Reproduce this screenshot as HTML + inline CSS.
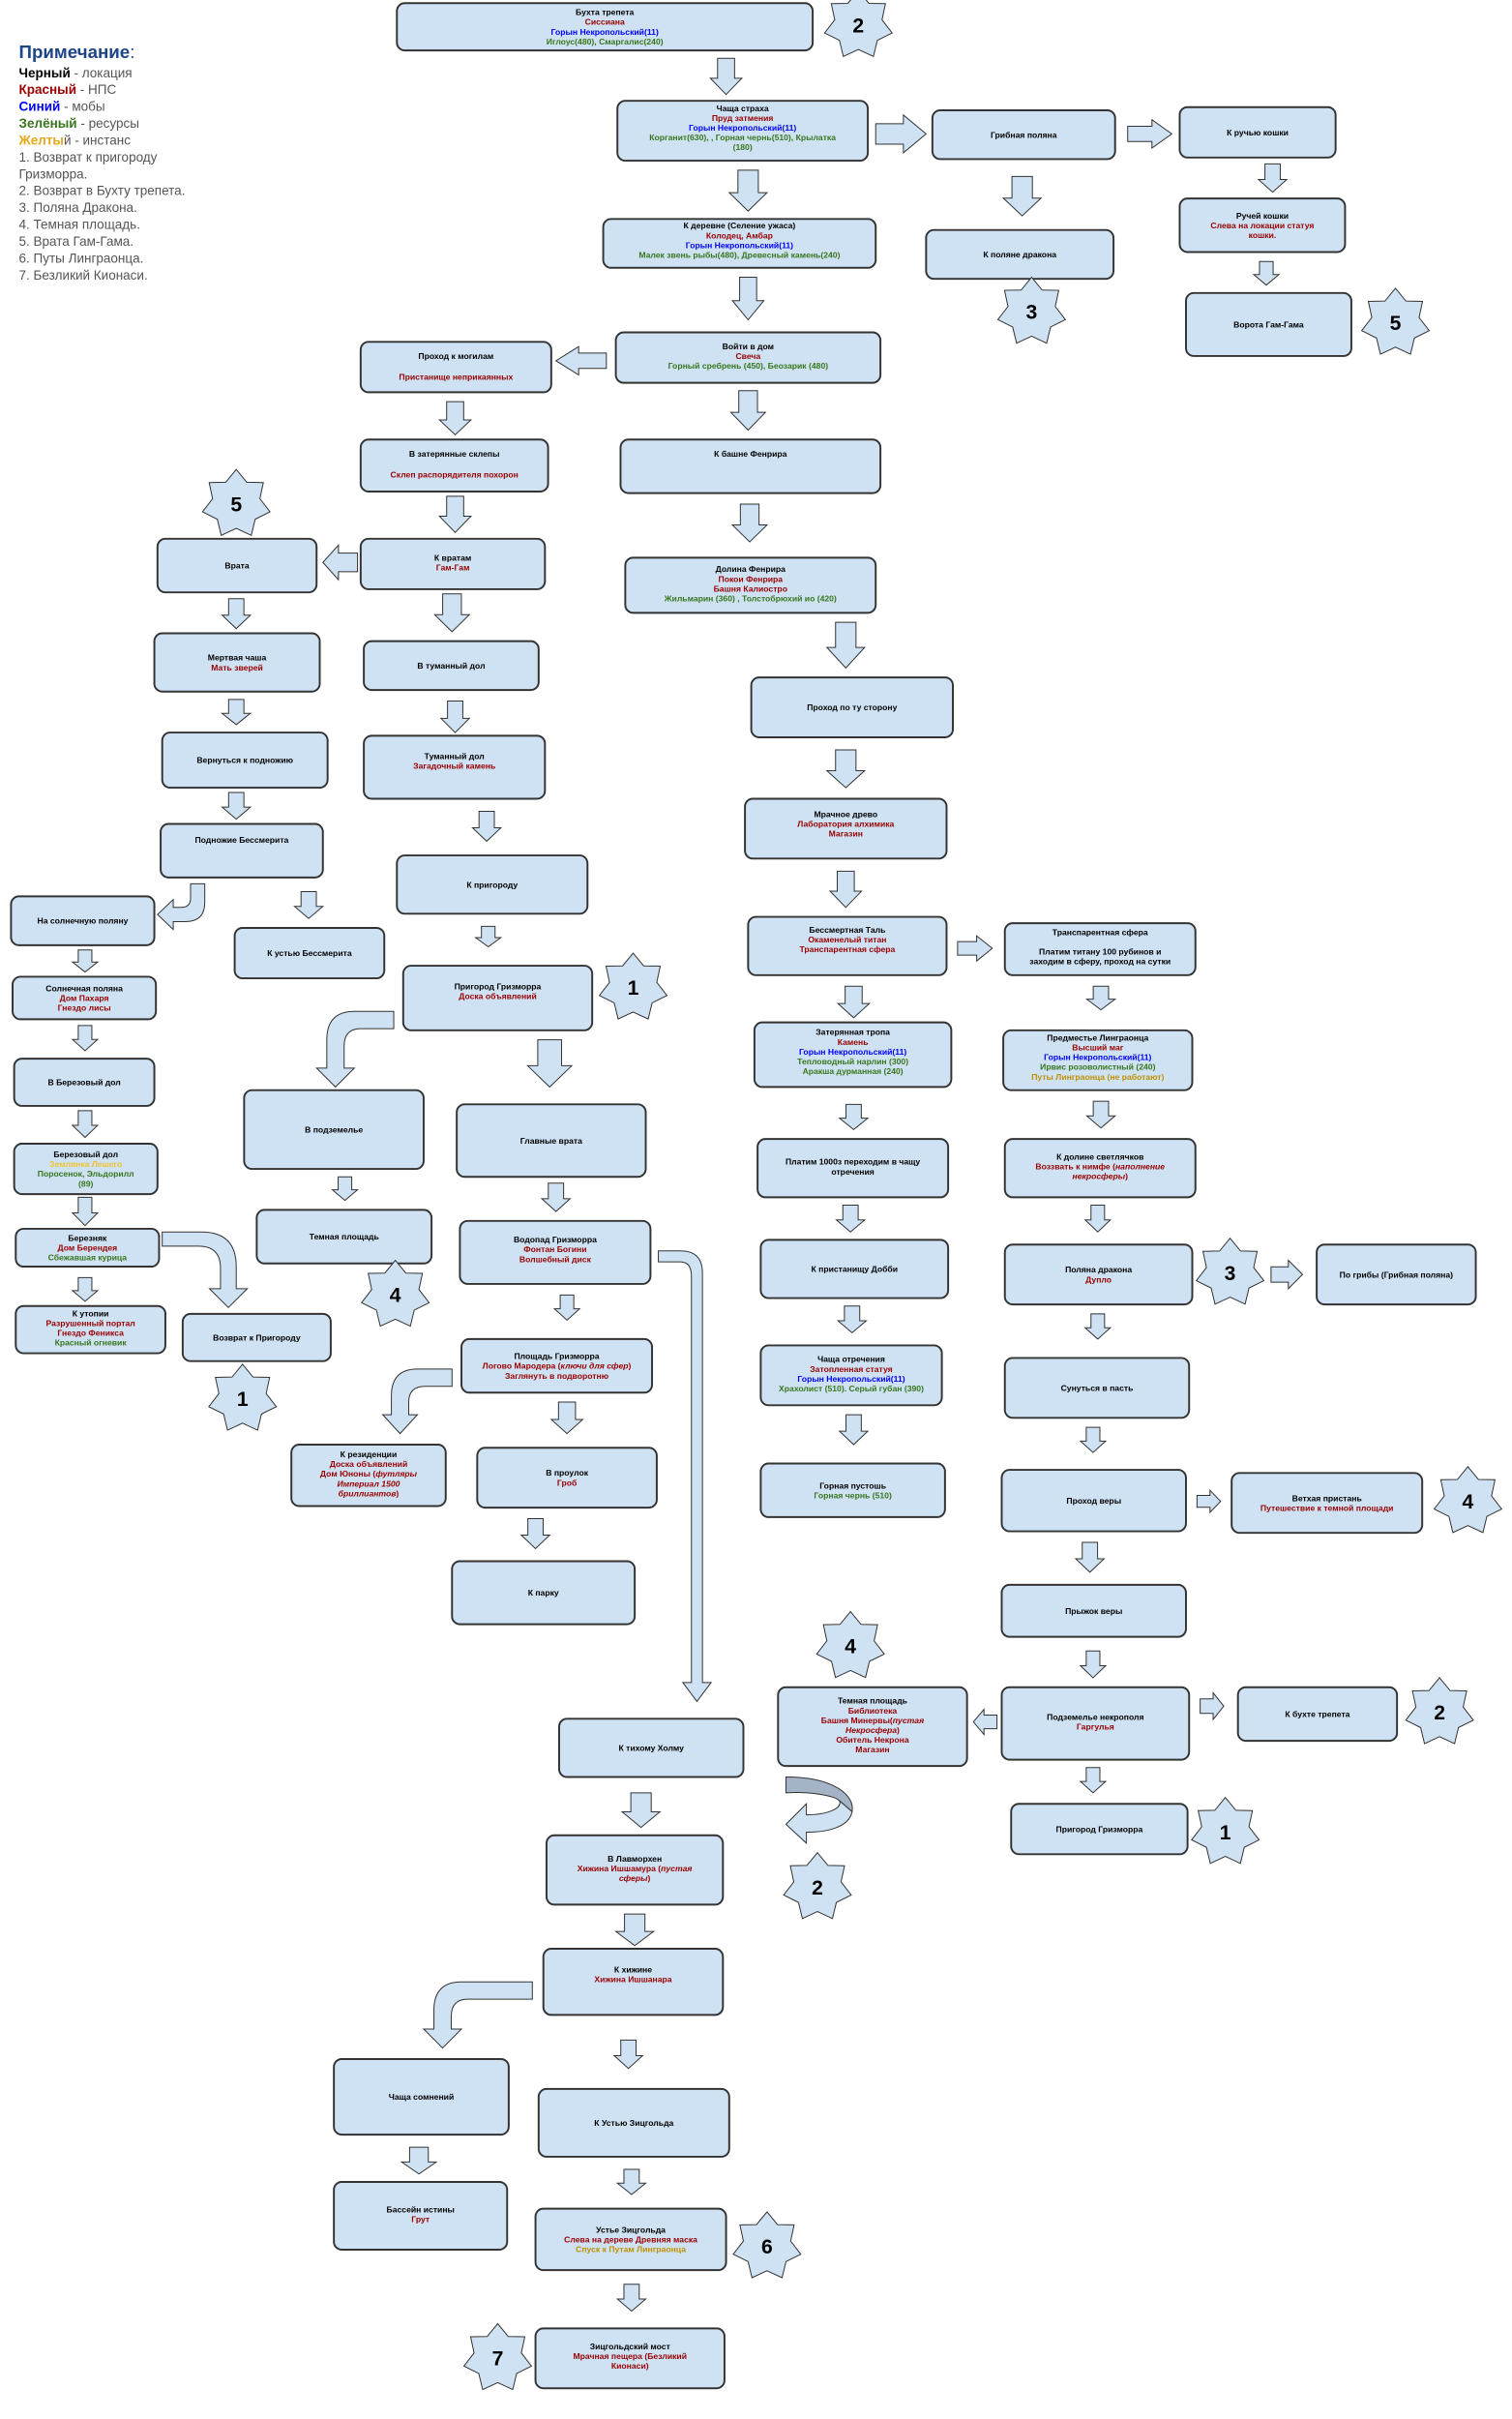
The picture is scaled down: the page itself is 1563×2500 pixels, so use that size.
<!DOCTYPE html>
<html><head><meta charset="utf-8"><style>
html,body{margin:0;padding:0;background:#fff;}
svg{display:block;}
text{font-family:"Liberation Sans","DejaVu Sans",sans-serif;font-weight:bold;font-size:5.3px;text-anchor:middle;}
.k{fill:#000}.r{fill:#990000}.b{fill:#0000ff}.g{fill:#38761d}.y{fill:#bf9000}
.bx{fill:#cfe2f3;stroke:#333;stroke-width:1.2;vector-effect:non-scaling-stroke}
.bp path{fill:#cfe2f3;stroke:#333;stroke-width:1;vector-effect:non-scaling-stroke}
.st text{font-size:13px}
.lg text{text-anchor:start;font-weight:normal;font-size:8.3px;fill:#555}
.i{font-style:italic}
</style></head><body>
<svg width="1563" height="2500" viewBox="0 0 960 1535.5" preserveAspectRatio="none" xmlns="http://www.w3.org/2000/svg" xmlns:xlink="http://www.w3.org/1999/xlink">
<defs>
<path id="da" fill="#cfe2f3" stroke="#333" stroke-width="1" vector-effect="non-scaling-stroke" d="M-0.27,0 H0.27 V0.55 H0.5 L0,1 L-0.5,0.55 H-0.27 Z"/>
<path id="ra" fill="#cfe2f3" stroke="#333" stroke-width="1" vector-effect="non-scaling-stroke" d="M0,-0.27 H0.55 V-0.5 L1,0 L0.55,0.5 V0.27 H0 Z"/>
<polygon id="star" fill="#cfe2f3" stroke="#333" stroke-width="1" vector-effect="non-scaling-stroke" points="0,-1 .304,-.631 .782,-.623 .682,-.156 .975,.223 .547,.436 .434,.901 0,.7 -.434,.901 -.547,.436 -.975,.223 -.682,-.156 -.782,-.623 -.304,-.631"/>
</defs>

<g class="lg">
<text x="12" y="37" style="font-size:11.5px;font-weight:bold;fill:#1c4587">Примечание<tspan style="font-weight:normal">:</tspan></text>
<text x="12" y="49"><tspan style="font-weight:bold;fill:#000">Черный</tspan> - локация</text>
<text x="12" y="59.7"><tspan style="font-weight:bold;fill:#990000">Красный</tspan> - НПС</text>
<text x="12" y="70.4"><tspan style="font-weight:bold;fill:#0000ff">Синий</tspan> - мобы</text>
<text x="12" y="81.1"><tspan style="font-weight:bold;fill:#38761d">Зелёный</tspan> - ресурсы</text>
<text x="12" y="91.8"><tspan style="font-weight:bold;fill:#e6a817">Желты</tspan>й - инстанс</text>
<text x="12" y="102.5">1. Возврат к пригороду</text>
<text x="12" y="113.2">Гризморра.</text>
<text x="12" y="123.9">2. Возврат в Бухту трепета.</text>
<text x="12" y="134.6">3. Поляна Дракона.</text>
<text x="12" y="145.3">4. Темная площадь.</text>
<text x="12" y="156">5. Врата Гам-Гама.</text>
<text x="12" y="166.7">6. Путы Линграонца.</text>
<text x="12" y="177.4">7. Безликий Кионаси.</text>
</g>

<g>
<use xlink:href="#da" transform="translate(461,37) scale(20,23)"/>
<use xlink:href="#da" transform="translate(475,108) scale(24,26)"/>
<use xlink:href="#da" transform="translate(649,112) scale(24,25)"/>
<use xlink:href="#da" transform="translate(808,104) scale(18,18)"/>
<use xlink:href="#da" transform="translate(804,166) scale(16,15)"/>
<use xlink:href="#da" transform="translate(475,176) scale(20,27)"/>
<use xlink:href="#da" transform="translate(475,248) scale(22,25)"/>
<use xlink:href="#da" transform="translate(289,255) scale(20,21)"/>
<use xlink:href="#da" transform="translate(476,320) scale(22,24)"/>
<use xlink:href="#da" transform="translate(289,315) scale(20,23)"/>
<use xlink:href="#da" transform="translate(537,395) scale(24,29)"/>
<use xlink:href="#da" transform="translate(287,377) scale(22,24)"/>
<use xlink:href="#da" transform="translate(150,380) scale(18,19)"/>
<use xlink:href="#da" transform="translate(289,445) scale(18,20)"/>
<use xlink:href="#da" transform="translate(150,444) scale(18,16)"/>
<use xlink:href="#da" transform="translate(537,476) scale(24,24)"/>
<use xlink:href="#da" transform="translate(150,503) scale(18,17)"/>
<use xlink:href="#da" transform="translate(309,515) scale(18,19)"/>
<use xlink:href="#da" transform="translate(196,566) scale(18,17)"/>
<use xlink:href="#da" transform="translate(537,553) scale(20,23)"/>
<use xlink:href="#da" transform="translate(310,588) scale(16,13)"/>
<use xlink:href="#da" transform="translate(54,603) scale(16,14)"/>
<use xlink:href="#da" transform="translate(542,626) scale(20,20)"/>
<use xlink:href="#da" transform="translate(699,626) scale(18,15)"/>
<use xlink:href="#da" transform="translate(349,660) scale(28,30)"/>
<use xlink:href="#da" transform="translate(54,651) scale(16,16)"/>
<use xlink:href="#da" transform="translate(542,701) scale(18,16)"/>
<use xlink:href="#da" transform="translate(699,699) scale(18,17)"/>
<use xlink:href="#da" transform="translate(54,705) scale(16,17)"/>
<use xlink:href="#da" transform="translate(219,747) scale(16,15)"/>
<use xlink:href="#da" transform="translate(353,751) scale(18,18)"/>
<use xlink:href="#da" transform="translate(54,760) scale(16,18)"/>
<use xlink:href="#da" transform="translate(540,765) scale(18,17)"/>
<use xlink:href="#da" transform="translate(697,765) scale(16,17)"/>
<use xlink:href="#da" transform="translate(54,811) scale(16,15)"/>
<use xlink:href="#da" transform="translate(360,822) scale(16,16)"/>
<use xlink:href="#da" transform="translate(541,829) scale(18,17)"/>
<use xlink:href="#da" transform="translate(697,834) scale(16,16)"/>
<use xlink:href="#da" transform="translate(360,890) scale(20,20)"/>
<use xlink:href="#da" transform="translate(542,898) scale(18,19)"/>
<use xlink:href="#da" transform="translate(694,906) scale(16,16)"/>
<use xlink:href="#da" transform="translate(340,964) scale(18,19)"/>
<use xlink:href="#da" transform="translate(692,979) scale(18,19)"/>
<use xlink:href="#da" transform="translate(694,1048) scale(16,17)"/>
<use xlink:href="#da" transform="translate(694,1122) scale(16,16)"/>
<use xlink:href="#da" transform="translate(407,1138) scale(24,22)"/>
<use xlink:href="#da" transform="translate(403,1215) scale(24,20)"/>
<use xlink:href="#da" transform="translate(399,1295) scale(18,18)"/>
<use xlink:href="#da" transform="translate(266,1363) scale(22,17)"/>
<use xlink:href="#da" transform="translate(401,1377) scale(18,16)"/>
<use xlink:href="#da" transform="translate(401,1450) scale(18,17)"/>
<use xlink:href="#ra" transform="translate(556,85) scale(32,24)"/>
<use xlink:href="#ra" transform="translate(716,85) scale(28,18)"/>
<use xlink:href="#ra" transform="translate(608,602) scale(22,16)"/>
<use xlink:href="#ra" transform="translate(807,809) scale(20,18)"/>
<use xlink:href="#ra" transform="translate(760,953) scale(15,14)"/>
<use xlink:href="#ra" transform="translate(762,1083) scale(15,17)"/>
<use xlink:href="#ra" transform="translate(385,229) scale(-32,18)"/>
<use xlink:href="#ra" transform="translate(227,357) scale(-22,22)"/>
<use xlink:href="#ra" transform="translate(633,1093) scale(-15,16)"/>
</g>
<g class="bp">
<path d="M250,642 L225,642 Q207.5,642 207.5,660 L207.5,678 L201,678 L213,690 L225,678 L218.5,678 L218.5,664 Q218.5,653 229,653 L250,653 Z"/>
<path d="M287,869 L265,869 Q248.5,869 248.5,886 L248.5,898 L243,898 L254,910 L265,898 L259.5,898 L259.5,890 Q259.5,880 270,880 L287,880 Z"/>
<path d="M338,1258 L293,1258 Q275.5,1258 275.5,1276 L275.5,1288 L269,1288 L281,1300 L293,1288 L286.5,1288 L286.5,1280 Q286.5,1269 297,1269 L338,1269 Z"/>
<path d="M121,561 L130,561 L130,573 Q130,585 118,585 L110,585 L110,590 L100,580.5 L110,571 L110,576 L115,576 Q121,576 121,570 Z"/>
<path d="M103,782 L128,782 Q150,782 150,804 L150,818 L157,818 L145,830 L133,818 L140,818 L140,805 Q140,791 126,791 L103,791 Z"/>
<path d="M418,794 L432,794 Q446,794 446,808 L446,1068 L451.5,1068 L442.5,1080 L433.5,1068 L439,1068 L439,810 Q439,801 432,801 L418,801 Z"/>
<path style="fill:#a4b4c6" d="M499,1128 C530,1128 543,1140 541,1150 L533,1143 C530,1140 515,1137 499,1138 Z"/>
<path d="M541,1150 C539,1160 525,1163 512,1163 L512,1170 L499,1158 L512,1145 L512,1152 C525,1152 535,1148 533,1143 Z"/>
</g>

<g class="bx">
<rect x="252" y="2" width="264" height="30" rx="5"/>
<rect x="392" y="64" width="159" height="38" rx="5"/>
<rect x="592" y="70" width="116" height="31" rx="5"/>
<rect x="749" y="68" width="99" height="32" rx="5"/>
<rect x="749" y="126" width="105" height="34" rx="5"/>
<rect x="753" y="186" width="105" height="40" rx="5"/>
<rect x="588" y="146" width="119" height="31" rx="5"/>
<rect x="383" y="139" width="173" height="31" rx="5"/>
<rect x="391" y="211" width="168" height="32" rx="5"/>
<rect x="229" y="217" width="121" height="32" rx="5"/>
<rect x="394" y="279" width="165" height="34" rx="5"/>
<rect x="229" y="279" width="119" height="33" rx="5"/>
<rect x="397" y="354" width="159" height="35" rx="5"/>
<rect x="229" y="342" width="117" height="32" rx="5"/>
<rect x="100" y="342" width="101" height="34" rx="5"/>
<rect x="477" y="430" width="128" height="38" rx="5"/>
<rect x="231" y="407" width="111" height="31" rx="5"/>
<rect x="98" y="402" width="105" height="37" rx="5"/>
<rect x="231" y="467" width="115" height="40" rx="5"/>
<rect x="103" y="465" width="105" height="35" rx="5"/>
<rect x="473" y="507" width="128" height="38" rx="5"/>
<rect x="102" y="523" width="103" height="34" rx="5"/>
<rect x="252" y="543" width="121" height="37" rx="5"/>
<rect x="7" y="569" width="91" height="31" rx="5"/>
<rect x="149" y="589" width="95" height="32" rx="5"/>
<rect x="475" y="582" width="126" height="37" rx="5"/>
<rect x="638" y="586" width="121" height="33" rx="5"/>
<rect x="256" y="613" width="120" height="41" rx="5"/>
<rect x="8" y="620" width="91" height="27" rx="5"/>
<rect x="479" y="649" width="125" height="41" rx="5"/>
<rect x="637" y="654" width="120" height="38" rx="5"/>
<rect x="9" y="672" width="89" height="30" rx="5"/>
<rect x="155" y="692" width="114" height="50" rx="5"/>
<rect x="290" y="701" width="120" height="46" rx="5"/>
<rect x="481" y="723" width="121" height="37" rx="5"/>
<rect x="638" y="723" width="121" height="37" rx="5"/>
<rect x="9" y="726" width="91" height="32" rx="5"/>
<rect x="163" y="768" width="111" height="34" rx="5"/>
<rect x="292" y="775" width="121" height="40" rx="5"/>
<rect x="10" y="780" width="91" height="24" rx="5"/>
<rect x="483" y="787" width="119" height="37" rx="5"/>
<rect x="638" y="790" width="119" height="38" rx="5"/>
<rect x="836" y="790" width="101" height="38" rx="5"/>
<rect x="10" y="829" width="95" height="30" rx="5"/>
<rect x="116" y="834" width="94" height="30" rx="5"/>
<rect x="293" y="850" width="121" height="34" rx="5"/>
<rect x="483" y="854" width="115" height="38" rx="5"/>
<rect x="638" y="862" width="117" height="38" rx="5"/>
<rect x="185" y="917" width="98" height="39" rx="5"/>
<rect x="303" y="919" width="114" height="38" rx="5"/>
<rect x="483" y="929" width="117" height="34" rx="5"/>
<rect x="636" y="933" width="117" height="39" rx="5"/>
<rect x="782" y="935" width="121" height="38" rx="5"/>
<rect x="287" y="991" width="116" height="40" rx="5"/>
<rect x="636" y="1006" width="117" height="33" rx="5"/>
<rect x="494" y="1071" width="120" height="50" rx="5"/>
<rect x="636" y="1071" width="119" height="46" rx="5"/>
<rect x="786" y="1071" width="101" height="34" rx="5"/>
<rect x="355" y="1091" width="117" height="37" rx="5"/>
<rect x="642" y="1145" width="112" height="32" rx="5"/>
<rect x="347" y="1165" width="112" height="44" rx="5"/>
<rect x="345" y="1237" width="114" height="42" rx="5"/>
<rect x="212" y="1307" width="111" height="48" rx="5"/>
<rect x="342" y="1326" width="121" height="43" rx="5"/>
<rect x="212" y="1385" width="110" height="43" rx="5"/>
<rect x="340" y="1402" width="121" height="39" rx="5"/>
<rect x="340" y="1478" width="120" height="38" rx="5"/>
</g>

<g>
<use xlink:href="#star" transform="translate(545,16) scale(22)"/>
<use xlink:href="#star" transform="translate(655,198) scale(22)"/>
<use xlink:href="#star" transform="translate(886,205) scale(22)"/>
<use xlink:href="#star" transform="translate(150,320) scale(22)"/>
<use xlink:href="#star" transform="translate(402,627) scale(22)"/>
<use xlink:href="#star" transform="translate(251,822) scale(22)"/>
<use xlink:href="#star" transform="translate(154,888) scale(22)"/>
<use xlink:href="#star" transform="translate(781,808) scale(22)"/>
<use xlink:href="#star" transform="translate(932,953) scale(22)"/>
<use xlink:href="#star" transform="translate(540,1045) scale(22)"/>
<use xlink:href="#star" transform="translate(914,1087) scale(22)"/>
<use xlink:href="#star" transform="translate(778,1163) scale(22)"/>
<use xlink:href="#star" transform="translate(519,1198) scale(22)"/>
<use xlink:href="#star" transform="translate(487,1426) scale(22)"/>
<use xlink:href="#star" transform="translate(316,1497) scale(22)"/>
</g>
<g class="st">
<text class="k" x="545" y="20.5">2</text>
<text class="k" x="655" y="202.5">3</text>
<text class="k" x="886" y="209.5">5</text>
<text class="k" x="150" y="324.5">5</text>
<text class="k" x="402" y="631.5">1</text>
<text class="k" x="251" y="826.5">4</text>
<text class="k" x="154" y="892.5">1</text>
<text class="k" x="781" y="812.5">3</text>
<text class="k" x="932" y="957.5">4</text>
<text class="k" x="540" y="1049.5">4</text>
<text class="k" x="914" y="1091.5">2</text>
<text class="k" x="778" y="1167.5">1</text>
<text class="k" x="519" y="1202.5">2</text>
<text class="k" x="487" y="1430.5">6</text>
<text class="k" x="316" y="1501.5">7</text>
</g>

<text class="k" x="384" y="9.6">Бухта трепета</text>
<text class="r" x="384" y="15.8">Сиссиана</text>
<text class="b" x="384" y="22">Горын Некропольский(11)</text>
<text class="g" x="384" y="28.2">Иглоус(480), Смаргалис(240)</text>

<text class="k" x="471.5" y="70.5">Чаща страха</text>
<text class="r" x="471.5" y="76.7">Пруд затмения</text>
<text class="b" x="471.5" y="82.9">Горын Некропольский(11)</text>
<text class="g" x="471.5" y="89.1">Корганит(630), , Горная чернь(510), Крылатка</text>
<text class="g" x="471.5" y="95.3">(180)</text>

<text class="k" x="650" y="87.4">Грибная поляна</text>
<text class="k" x="798.5" y="85.9">К ручью кошки</text>
<text class="k" x="801.5" y="138.7">Ручей кошки</text>
<text class="r" x="801.5" y="144.9">Слева на локации статуя</text>
<text class="r" x="801.5" y="151.1">кошки.</text>
<text class="k" x="805.5" y="207.9">Ворота Гам-Гама</text>
<text class="k" x="647.5" y="163.4">К поляне дракона</text>

<text class="k" x="469.5" y="145.1">К деревне (Селение ужаса)</text>
<text class="r" x="469.5" y="151.3">Колодец, Амбар</text>
<text class="b" x="469.5" y="157.5">Горын Некропольский(11)</text>
<text class="g" x="469.5" y="163.7">Малек звень рыбы(480), Древесный камень(240)</text>

<text class="k" x="475" y="221.7">Войти в дом</text>
<text class="r" x="475" y="227.9">Свеча</text>
<text class="g" x="475" y="234.1">Горный сребрень (450), Беозарик (480)</text>

<text class="k" x="289.5" y="228">Проход к могилам</text>
<text class="r" x="289.5" y="241">Пристанище неприкаянных</text>
<text class="k" x="476.5" y="290">К башне Фенрира</text>
<text class="k" x="288.5" y="290">В затерянные склепы</text>
<text class="r" x="288.5" y="303">Склеп распорядителя похорон</text>

<text class="k" x="476.5" y="363.1">Долина Фенрира</text>
<text class="r" x="476.5" y="369.3">Покои Фенрира</text>
<text class="r" x="476.5" y="375.5">Башня Калиостро</text>
<text class="g" x="476.5" y="381.7">Жильмарин (360) , Толстобрюхий ио (420)</text>

<text class="k" x="287.5" y="355.8">К вратам</text>
<text class="r" x="287.5" y="362">Гам-Гам</text>
<text class="k" x="150.5" y="360.9">Врата</text>
<text class="k" x="541" y="450.9">Проход по ту сторону</text>
<text class="k" x="286.5" y="424.4">В туманный дол</text>
<text class="k" x="150.5" y="419.3">Мертвая чаша</text>
<text class="r" x="150.5" y="425.5">Мать зверей</text>
<text class="k" x="288.5" y="481.8">Туманный дол</text>
<text class="r" x="288.5" y="488">Загадочный камень</text>
<text class="k" x="155.5" y="484.4">Вернуться к подножию</text>
<text class="k" x="537" y="518.7">Мрачное древо</text>
<text class="r" x="537" y="524.9">Лаборатория алхимика</text>
<text class="r" x="537" y="531.1">Магазин</text>
<text class="k" x="153.5" y="535">Подножие Бессмерита</text>
<text class="k" x="312.5" y="563.4">К пригороду</text>
<text class="k" x="52.5" y="586.4">На солнечную поляну</text>
<text class="k" x="196.5" y="606.9">К устью Бессмерита</text>

<text class="k" x="538" y="592">Бессмертная Таль</text>
<text class="r" x="538" y="598.2">Окаменелый титан</text>
<text class="r" x="538" y="604.4">Транспарентная сфера</text>
<text class="k" x="698.5" y="593.5">Транспарентная сфера</text>
<text class="k" x="698.5" y="606">Платим титану 100 рубинов и</text>
<text class="k" x="698.5" y="612.2">заходим в сферу, проход на сутки</text>

<text class="k" x="316" y="628">Пригород Гризморра</text>
<text class="r" x="316" y="634.2">Доска объявлений</text>
<text class="k" x="53.5" y="629.2">Солнечная поляна</text>
<text class="r" x="53.5" y="635.4">Дом Пахаря</text>
<text class="r" x="53.5" y="641.6">Гнездо лисы</text>

<text class="k" x="541.5" y="657">Затерянная тропа</text>
<text class="r" x="541.5" y="663.2">Камень</text>
<text class="b" x="541.5" y="669.4">Горын Некропольский(11)</text>
<text class="g" x="541.5" y="675.6">Тепловодный нарлин (300)</text>
<text class="g" x="541.5" y="681.8">Аракша дурманная (240)</text>

<text class="k" x="697" y="660.5">Предместье Линграонца</text>
<text class="r" x="697" y="666.7">Высший маг</text>
<text class="b" x="697" y="672.9">Горын Некропольский(11)</text>
<text class="g" x="697" y="679.1">Ирвис розоволистный (240)</text>
<text class="y" x="697" y="685.3">Путы Линграонца (не работают)</text>

<text class="k" x="53.5" y="688.9">В Березовый дол</text>
<text class="k" x="212" y="718.9">В подземелье</text>
<text class="k" x="350" y="725.9">Главные врата</text>
<text class="k" x="541.5" y="739.3">Платим 1000з переходим в чащу</text>
<text class="k" x="541.5" y="745.5">отречения</text>
<text class="k" x="698.5" y="736.1">К долине светлячков</text>
<text class="r" x="698.5" y="742.3">Воззвать к нимфе (<tspan class="i">наполнение</tspan></text>
<text class="r" x="698.5" y="748.5"><tspan class="i">некросферы</tspan>)</text>

<text class="k" x="54.5" y="734.6">Березовый дол</text>
<text x="54.5" y="740.8" style="fill:#f1c232">Землянка Лешего</text>
<text class="g" x="54.5" y="747">Поросенок, Эльдорилл</text>
<text class="g" x="54.5" y="753.2">(89)</text>

<text class="k" x="218.5" y="786.9">Темная площадь</text>
<text class="k" x="352.5" y="788.7">Водопад Гризморра</text>
<text class="r" x="352.5" y="794.9">Фонтан Богини</text>
<text class="r" x="352.5" y="801.1">Волшебный диск</text>
<text class="k" x="55.5" y="787.7">Березняк</text>
<text class="r" x="55.5" y="793.9">Дом Берендея</text>
<text class="g" x="55.5" y="800.1">Сбежавшая курица</text>
<text class="k" x="542.5" y="807.4">К пристанищу Добби</text>
<text class="k" x="697.5" y="807.8">Поляна дракона</text>
<text class="r" x="697.5" y="814">Дупло</text>
<text class="k" x="886.5" y="810.9">По грибы (Грибная поляна)</text>

<text class="k" x="57.5" y="835.6">К утопии</text>
<text class="r" x="57.5" y="841.8">Разрушенный портал</text>
<text class="r" x="57.5" y="848">Гнездо Феникса</text>
<text class="g" x="57.5" y="854.2">Красный огневик</text>
<text class="k" x="163" y="850.9">Возврат к Пригороду</text>

<text class="k" x="353.5" y="862.7">Площадь Гризморра</text>
<text class="r" x="353.5" y="868.9">Логово Мародера (<tspan class="i">ключи для сфер</tspan>)</text>
<text class="r" x="353.5" y="875.1">Заглянуть в подворотню</text>

<text class="k" x="540.5" y="864.6">Чаща отречения</text>
<text class="r" x="540.5" y="870.8">Затопленная статуя</text>
<text class="b" x="540.5" y="877">Горын Некропольский(11)</text>
<text class="g" x="540.5" y="883.2">Храхолист (510). Серый губан (390)</text>
<text class="k" x="696.5" y="882.9">Сунуться в пасть</text>

<text class="k" x="234" y="925">К резиденции</text>
<text class="r" x="234" y="931.2">Доска объявлений</text>
<text class="r" x="234" y="937.4">Дом Юноны (<tspan class="i">футляры</tspan></text>
<text class="r i" x="234" y="943.6">Империал 1500</text>
<text class="r" x="234" y="949.8"><tspan class="i">бриллиантов</tspan>)</text>

<text class="k" x="360" y="936.8">В проулок</text>
<text class="r" x="360" y="943">Гроб</text>
<text class="k" x="541.5" y="944.8">Горная пустошь</text>
<text class="g" x="541.5" y="951">Горная чернь (510)</text>
<text class="k" x="694.5" y="954.4">Проход веры</text>
<text class="k" x="842.5" y="952.8">Ветхая пристань</text>
<text class="r" x="842.5" y="959">Путешествие к темной площади</text>
<text class="k" x="345" y="1012.9">К парку</text>
<text class="k" x="694.5" y="1024.4">Прыжок веры</text>

<text class="k" x="554" y="1081.4">Темная площадь</text>
<text class="r" x="554" y="1087.6">Библиотека</text>
<text class="r" x="554" y="1093.8">Башня Минервы(<tspan class="i">пустая</tspan></text>
<text class="r" x="554" y="1100"><tspan class="i">Некросфера</tspan>)</text>
<text class="r" x="554" y="1106.2">Обитель Некрона</text>
<text class="r" x="554" y="1112.4">Магазин</text>

<text class="k" x="695.5" y="1091.8">Подземелье некрополя</text>
<text class="r" x="695.5" y="1098">Гаргулья</text>
<text class="k" x="836.5" y="1089.9">К бухте трепета</text>
<text class="k" x="413.5" y="1111.4">К тихому Холму</text>
<text class="k" x="698" y="1162.9">Пригород Гризморра</text>

<text class="k" x="403" y="1181.7">В Лавморхен</text>
<text class="r" x="403" y="1187.9">Хижина Ишшамура (<tspan class="i">пустая</tspan></text>
<text class="r" x="403" y="1194.1"><tspan class="i">сферы</tspan>)</text>

<text class="k" x="402" y="1252">К хижине</text>
<text class="r" x="402" y="1258.2">Хижина Ишшанара</text>
<text class="k" x="267.5" y="1332.9">Чаща сомнений</text>
<text class="k" x="402.5" y="1349.4">К Устью Зицгольда</text>
<text class="k" x="267" y="1404.4">Бассейн истины</text>
<text class="r" x="267" y="1410.6">Грут</text>
<text class="k" x="400.5" y="1417.3">Устье Зицгольда</text>
<text class="r" x="400.5" y="1423.5">Слева на дереве Древняя маска</text>
<text class="y" x="400.5" y="1429.7">Спуск к Путам Линграонца</text>
<text class="k" x="400" y="1491.3">Зицгольдский мост</text>
<text class="r" x="400" y="1497.5">Мрачная пещера (Безликий</text>
<text class="r" x="400" y="1503.7">Кионаси)</text>
</svg>
</body></html>
